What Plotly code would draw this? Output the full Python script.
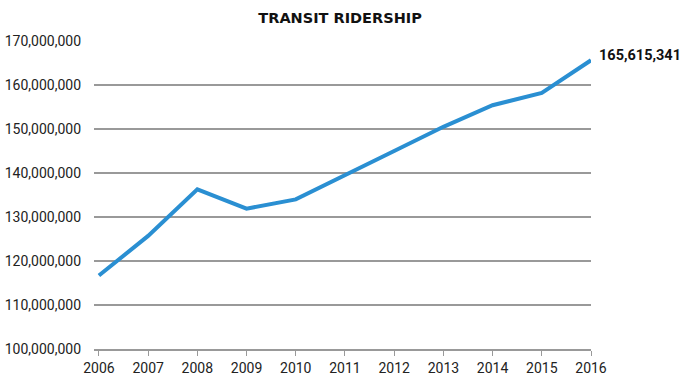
import plotly.graph_objects as go

years = [2006, 2007, 2008, 2009, 2010, 2011, 2012, 2013, 2014, 2015, 2016]
riders = [116700000, 125700000, 136300000, 131900000, 134000000, 139400000,
          145000000, 150500000, 155400000, 158200000, 165615341]
y_ticks = [100000000, 110000000, 120000000, 130000000, 140000000, 150000000, 160000000, 170000000]
y_labels = [f"{v:,}" for v in y_ticks]
title_text = "TRANSIT RIDERSHIP"
end_label = f"{riders[-1]:,}"

fig = go.Figure()
fig.add_trace(go.Scatter(x=years, y=riders, mode="lines",
                         line=dict(color="#2a8fd2", width=4), hoverinfo="skip"))

fig.add_annotation(x=years[-1], y=riders[-1], text=f"<b>{end_label}</b>",
                   showarrow=False, xanchor="left", yanchor="middle", xshift=6, yshift=5,
                   font=dict(family="Roboto", size=14.5, color="#111"))

fig.update_layout(
    width=687, height=375,
    margin=dict(l=94, r=96, t=41, b=26, autoexpand=False),
    paper_bgcolor="white", plot_bgcolor="white",
    showlegend=False,
    title=dict(text=f"<b>{title_text}</b>", x=0.495, xanchor="center", y=0.953, yanchor="middle",
               font=dict(family="DejaVu Sans", size=14.5, color="#111")),
    font=dict(family="Roboto", size=14, color="#222"),
)
fig.update_xaxes(range=[2005.9, 2016], tickvals=years, ticktext=[str(y) for y in years],
                 showgrid=False, zeroline=False, showline=True, linecolor="#999", linewidth=1.5,
                 ticks="outside", ticklen=5, tickcolor="#999", tickwidth=1, automargin=False,
                 tickfont=dict(family="Roboto", size=14, color="#222"))
fig.update_yaxes(range=[100000000, 170000000], tickvals=y_ticks, ticktext=y_labels,
                 showgrid=True, gridcolor="#999", gridwidth=1.5, zeroline=False,
                 showline=False, ticks="", ticklabelstandoff=12, automargin=False,
                 tickfont=dict(family="Roboto", size=14, color="#222"))

fig.write_html("out.html", config={"displayModeBar": False},
               post_script="document.body.style.margin='0';document.body.style.overflow='hidden';")
